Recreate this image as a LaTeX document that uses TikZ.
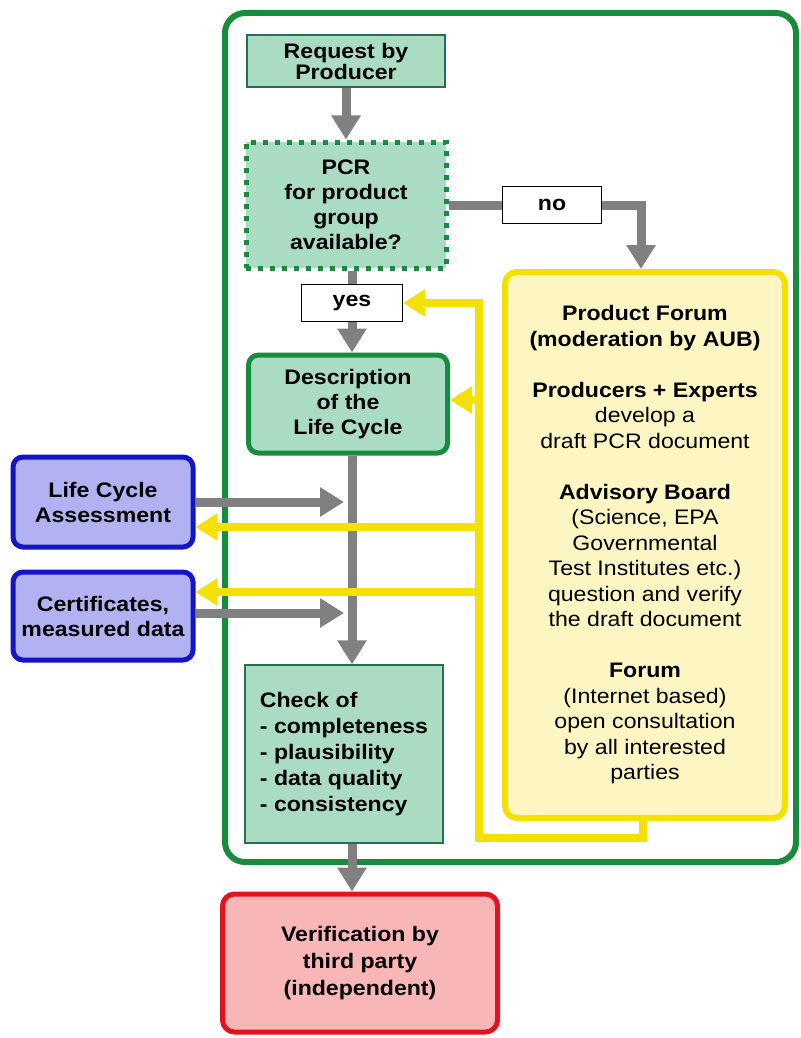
\documentclass[tikz,border=0pt]{standalone}
\usepackage{fontspec}
\setmainfont{Liberation Sans}[FakeStretch=1.1]
\usetikzlibrary{arrows.meta}
\definecolor{frgreen}{RGB}{24,140,62}
\definecolor{lgreen}{RGB}{170,220,196}
\definecolor{dgreen}{RGB}{40,110,80}
\definecolor{agray}{RGB}{128,128,128}
\definecolor{ylw}{RGB}{245,225,0}
\definecolor{lylw}{RGB}{253,246,195}
\definecolor{bblue}{RGB}{20,20,200}
\definecolor{lblue}{RGB}{178,178,242}
\definecolor{rred}{RGB}{225,20,30}
\definecolor{lred}{RGB}{248,182,182}
\tikzset{
  basefont/.style={font=\fontsize{21}{25}\selectfont\bfseries},
  gbox/.style={draw=dgreen, line width=1.2pt, fill=lgreen, align=center, inner sep=0pt, basefont},
  dotbox/.style={draw=frgreen, line width=5pt, dash pattern=on 5pt off 7pt, fill=lgreen, align=center, inner sep=0pt, basefont},
  labbox/.style={draw=black, line width=1.2pt, fill=white, align=center, inner sep=0pt, basefont},
  descbox/.style={draw=frgreen, line width=5pt, rounded corners=10pt, fill=lgreen, align=center, inner sep=0pt, basefont},
  bluebox/.style={draw=bblue, line width=5pt, rounded corners=10pt, fill=lblue, align=center, inner sep=0pt, basefont},
  redbox/.style={draw=rred, line width=5pt, rounded corners=12pt, fill=lred, align=center, inner sep=0pt, font=\fontsize{21}{27}\selectfont\bfseries},
  yelbox/.style={draw=ylw, line width=6pt, rounded corners=12pt, fill=lylw, align=center, inner sep=0pt, font=\fontsize{21}{25.5}\selectfont},
  gline/.style={draw=agray, line width=9pt},
  garrow/.style={gline, -{Triangle[length=24pt,width=28pt]}},
  yline/.style={draw=ylw, line width=8pt},
  yarrow/.style={yline, -{Triangle[length=22pt,width=26pt]}},
}
\begin{document}
\begin{tikzpicture}[x=1pt,y=-1pt]
\fill[white] (0,0) rectangle (800,1038);
\useasboundingbox (0,0) rectangle (800,1038);
% outer frame
\draw[frgreen, line width=6pt, rounded corners=20pt] (225,13) rectangle (796,862);
% nodes
\node[gbox, minimum width=198pt, minimum height=52pt, font=\fontsize{21}{21}\selectfont\bfseries] (req) at (346,61) {Request by\\Producer};
\node[dotbox, minimum width=200pt, minimum height=126pt] (pcr) at (346,205) {PCR\\for product\\group\\available?};
\node[labbox, minimum width=99pt, minimum height=37pt] (no) at (552,205) {no};
\node[labbox, minimum width=101pt, minimum height=37pt] (yes) at (352,303) {yes};
\node[descbox, minimum width=199pt, minimum height=98pt] (desc) at (348,404) {Description\\of the\\Life Cycle};
\node[bluebox, minimum width=180pt, minimum height=90pt] (lca) at (103,502) {Life Cycle\\Assessment};
\node[bluebox, minimum width=180pt, minimum height=88pt] (cert) at (103,616) {Certificates,\\measured data};
\node[gbox, align=left, minimum width=198pt, minimum height=178pt, font=\fontsize{21}{26}\selectfont\bfseries] (check) at (344,754) {Check of\\- completeness\\- plausibility\\- data quality\\- consistency};
\node[redbox, minimum width=275pt, minimum height=138pt] (verif) at (360,963) {Verification by\\third party\\(independent)};
\node[yelbox, minimum width=280pt, minimum height=546pt] (yb) at (645,545) {%
{\bfseries Product Forum}\\
{\bfseries (moderation by AUB)}\\[25.5pt]
{\bfseries Producers + Experts}\\
develop a\\
draft PCR document\\[25.5pt]
{\bfseries Advisory Board}\\
(Science, EPA\\
Governmental\\
Test Institutes etc.)\\
question and verify\\
the draft document\\[25.5pt]
{\bfseries Forum}\\
(Internet based)\\
open consultation\\
by all interested\\
parties};
% coordinates
\coordinate (g1) at (352,502);
\coordinate (g2) at (352,613);
\coordinate (ya) at (479,527);
\coordinate (yc) at (479,592);
\coordinate (yd) at (479,400);
\coordinate (yl) at (479,838);
% gray connectors
\draw[garrow] (req.south) -- (pcr.north);
\draw[gline] (pcr.south -| yes.north) -- (yes.north);
\draw[garrow] (yes.south) -- (yes.south |- desc.north);
\draw[gline] (pcr.east) -- (no.west);
\draw[garrow] (no.east) -| ([xshift=-4pt]yb.north);
\draw[garrow] (desc.south -| yes.south) -- (check.north -| yes.south);
\draw[garrow, shorten >=8pt] (lca.east) -- (g1);
\draw[garrow, shorten >=8pt] (g2 -| cert.east) -- (g2);
\draw[garrow] (check.south -| yes.south) -- (verif.north -| yes.south);
% yellow connectors
\draw[yarrow] ([xshift=-2pt]yb.south) |- (yl) |- (yes.east);
\draw[yarrow] (yd) -- (yd -| desc.east);
\draw[yarrow] (ya) -- (ya -| lca.east);
\draw[yarrow] (yc) -- (yc -| cert.east);
\end{tikzpicture}
\end{document}
